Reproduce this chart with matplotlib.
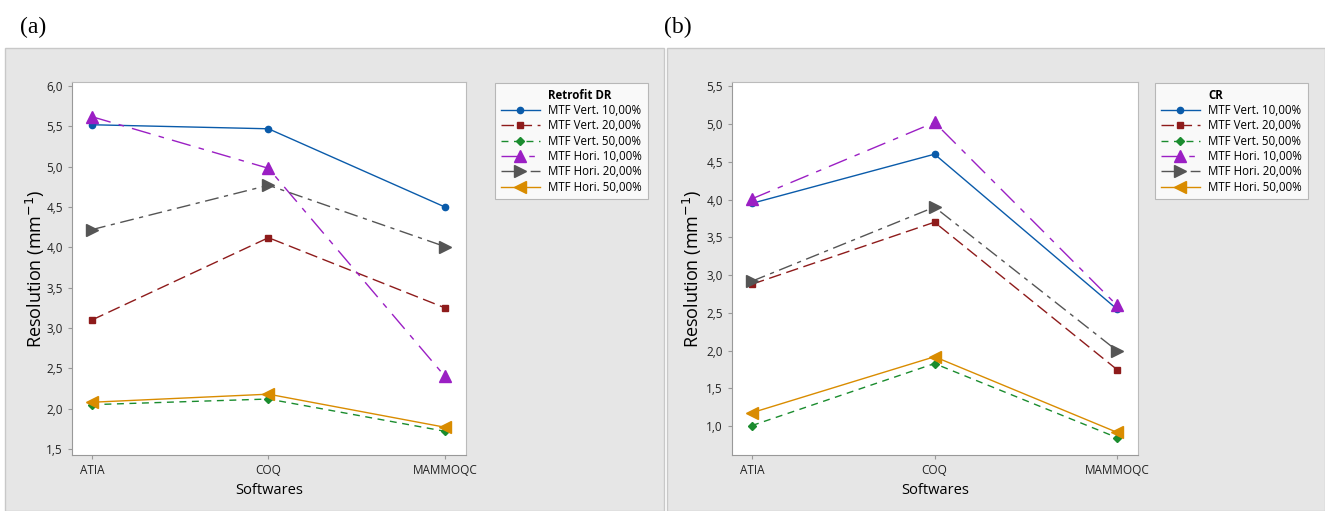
import matplotlib.pyplot as plt
from matplotlib.lines import Line2D
from matplotlib.patches import Rectangle
from matplotlib.ticker import FuncFormatter

softwares = ['ATIA', 'COQ', 'MAMMOQC']
series_names = ['MTF Vert. 10,00%', 'MTF Vert. 20,00%', 'MTF Vert. 50,00%',
                'MTF Hori. 10,00%', 'MTF Hori. 20,00%', 'MTF Hori. 50,00%']

# (a) Retrofit DR
dr_vert10 = [5.52, 5.47, 4.50]
dr_vert20 = [3.10, 4.12, 3.25]
dr_vert50 = [2.05, 2.12, 1.72]
dr_hori10 = [5.62, 4.98, 2.40]
dr_hori20 = [4.22, 4.77, 4.01]
dr_hori50 = [2.08, 2.18, 1.77]

# (b) CR
cr_vert10 = [3.95, 4.60, 2.55]
cr_vert20 = [2.88, 3.70, 1.75]
cr_vert50 = [1.01, 1.83, 0.85]
cr_hori10 = [4.01, 5.02, 2.60]
cr_hori20 = [2.92, 3.90, 2.00]
cr_hori50 = [1.18, 1.92, 0.92]

colors = ['#0A5BAA', '#8E1B1B', '#1A8C2E', '#9B1FC4', '#555555', '#D98C00']
markers = ['o', 's', 'D', '^', '>', '<']
msizes = [4.5, 5, 4.5, 8, 8, 8]
styles = ['-', (0, (9, 4)), (0, (5, 4)), (0, (14, 6, 4, 6)), (0, (10, 4, 3, 4)), '-']

plt.rcParams['font.family'] = ['Open Sans', 'DejaVu Sans']

fig = plt.figure(figsize=(13.25, 5.11), dpi=100)
W, H = 1325, 511

# grey panels behind the axes
for x0, x1 in [(5, 664), (667, 1325)]:
    fig.patches.append(Rectangle((x0 / W, 0), (x1 - x0) / W, 1 - 48 / H,
                                 transform=fig.transFigure, facecolor='#E6E6E6',
                                 edgecolor='#C8C8C8', linewidth=1, zorder=-5))

fig.text(20 / W, 1 - 27 / H, '(a)', family='Liberation Serif', fontsize=17, va='center')
fig.text(664 / W, 1 - 27 / H, '(b)', family='Liberation Serif', fontsize=17, va='center')

comma = FuncFormatter(lambda v, p: f'{v:.1f}'.replace('.', ','))


def draw(rect, data, xlim, ylim, yticks, legend_title, legend_x, ylabel_x):
    ax = fig.add_axes(rect)
    ax.set_zorder(2)
    ax.set_facecolor('white')
    x = range(len(softwares))
    for vals, name, c, m, ms, ls in zip(data, series_names, colors, markers, msizes, styles):
        ax.plot(x, vals, color=c, marker=m, markersize=ms, linestyle=ls, linewidth=1,
                label=name)
    ax.set_xlim(*xlim)
    ax.set_ylim(*ylim)
    ax.set_xticks(list(x))
    ax.set_xticklabels(softwares, fontsize=8.5)
    ax.set_yticks(yticks)
    ax.yaxis.set_major_formatter(comma)
    ax.tick_params(axis='y', labelsize=8.5)
    ax.tick_params(colors='#999999', labelcolor='#222222', length=3)
    for s in ['top', 'right']:
        ax.spines[s].set_color('#BBBBBB')
    for s in ['left', 'bottom']:
        ax.spines[s].set_color('#999999')
    ax.set_xlabel('Softwares', fontsize=10.5, labelpad=4)
    ax.set_ylabel('Resolution (mm$^{-1}$)', fontsize=13)
    ax.yaxis.set_label_coords(ylabel_x, 0.5)

    handles, labels = ax.get_legend_handles_labels()
    head = Line2D([], [], color='none')
    leg = ax.legend([head] + handles, [legend_title] + labels, loc='upper left',
                    bbox_to_anchor=(legend_x / W, 1 - 83 / H), bbox_transform=fig.transFigure,
                    borderaxespad=0, fontsize=8.3, frameon=True, fancybox=False,
                    edgecolor='#AAAAAA', handlelength=3.4, handletextpad=0.7,
                    borderpad=0.5, labelspacing=0.2)
    leg.get_texts()[0].set_fontweight('bold')
    leg.get_frame().set_linewidth(0.8)
    return ax


draw([72 / W, 56 / H, 394 / W, 373 / H],
     [dr_vert10, dr_vert20, dr_vert50, dr_hori10, dr_hori20, dr_hori50],
     (-0.113, 2.119), (1.426, 6.05), [1.5, 2.0, 2.5, 3.0, 3.5, 4.0, 4.5, 5.0, 5.5, 6.0],
     'Retrofit DR', 495, -0.063)

draw([732 / W, 56 / H, 406 / W, 373 / H],
     [cr_vert10, cr_vert20, cr_vert50, cr_hori10, cr_hori20, cr_hori50],
     (-0.11, 2.115), (0.62, 5.555), [1.0, 1.5, 2.0, 2.5, 3.0, 3.5, 4.0, 4.5, 5.0, 5.5],
     'CR', 1155, -0.068)

fig.savefig('out.png', dpi=100)
